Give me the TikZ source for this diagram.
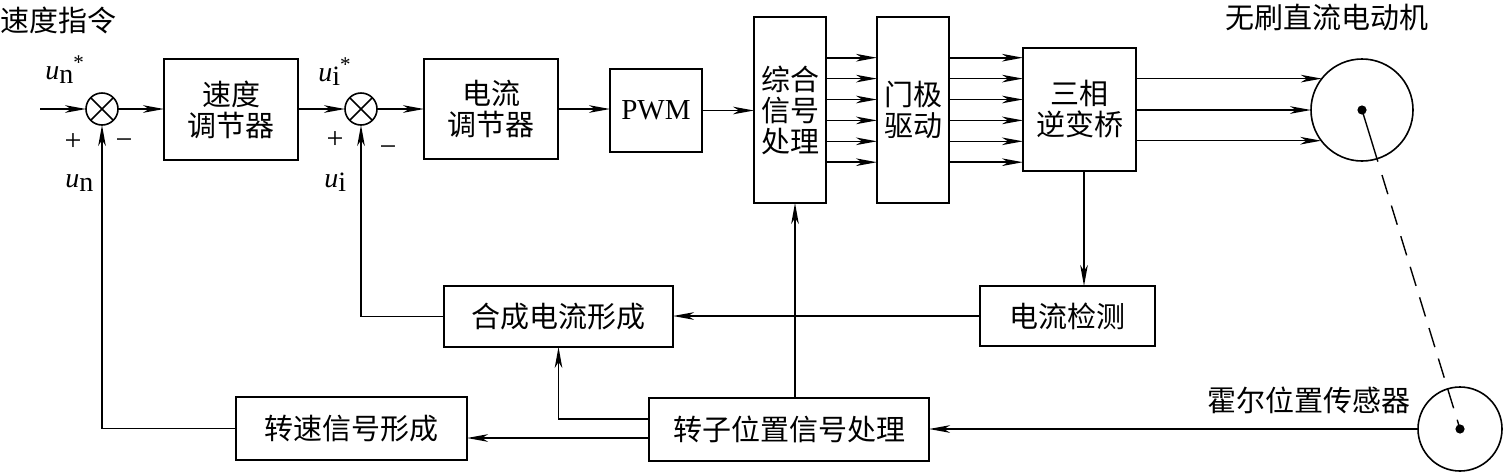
\documentclass[tikz,border=0pt]{standalone}
\usepackage{fontspec}
\setmainfont{Liberation Serif}
\newfontfamily\cjk{Noto Sans CJK SC}
\usetikzlibrary{arrows.meta}
\newcommand{\uvar}[2]{\textit{u}\raisebox{-2pt}{#1}\raisebox{4.6pt}{\fontsize{10.5}{10.5}\selectfont #2}}
\newcommand{\usub}[1]{\textit{u}\raisebox{-2pt}{#1}}
\begin{document}
\begin{tikzpicture}[x=0.5pt,y=-0.5pt,
  blk/.style={draw, line width=0.9pt, inner sep=0pt, outer sep=0pt, align=center,
    font=\cjk\fontsize{14.5}{15.5}\selectfont},
  ttl/.style={inner sep=0pt, font=\cjk\fontsize{14.5}{17}\selectfont},
  lbl/.style={inner sep=0pt, font=\fontsize{14}{16}\selectfont},
  sgn/.style={inner sep=0pt, font=\fontsize{15}{17}\selectfont},
  sumc/.style={draw, circle, line width=0.8pt, minimum size=16pt, inner sep=0pt, outer sep=0pt},
  motc/.style={draw, circle, line width=0.8pt, inner sep=0pt, outer sep=0pt},
  arr/.style={-{Stealth[length=10.5pt,width=3.8pt,inset=3pt]}, line width=0.8pt},
  ln/.style={line width=0.8pt}]
\useasboundingbox (0,0) rectangle (1504,472);

% blocks
\node[blk, minimum width=67pt, minimum height=50.5pt] (spd) at (231,109.5) {速度\\调节器};
\node[blk, minimum width=67pt, minimum height=50pt] (cur) at (491,109) {电流\\调节器};
\node[blk, font=\fontsize{14.5}{17}\selectfont, minimum width=46pt, minimum height=41.5pt] (pwm) at (656,110.5) {PWM};
\node[blk, minimum width=36pt, minimum height=93pt] (zh) at (790,110) {综合\\信号\\处理};
\node[blk, minimum width=36pt, minimum height=93pt] (gate) at (913,110) {门极\\驱动};
\node[blk, minimum width=56.5pt, minimum height=61.5pt] (inv) at (1079.5,109.5) {三相\\逆变桥};
\node[blk, minimum width=114.5pt, minimum height=30.5pt] (hc) at (558.5,316.5) {合成电流形成};
\node[blk, minimum width=87.5pt, minimum height=30pt] (det) at (1067.5,316) {电流检测};
\node[blk, minimum width=115.5pt, minimum height=31.5pt] (spdf) at (351.5,428.5) {转速信号形成};
\node[blk, minimum width=140pt, minimum height=31.5pt] (rot) at (789,429.5) {转子位置信号处理};

% summing junctions
\node[sumc] (s1) at (102,109) {};
\node[sumc] (s2) at (361,109) {};
\draw[ln] (s1.45) -- (s1.225) (s1.135) -- (s1.315);
\draw[ln] (s2.45) -- (s2.225) (s2.135) -- (s2.315);

% motor and hall sensor
\node[motc, minimum size=51pt] (mot) at (1362,110) {};
\node[motc, minimum size=42pt] (hall) at (1460,429) {};
\fill (mot.center) circle (2.3pt);
\fill (hall.center) circle (2.3pt);
\draw[line width=0.7pt, dash pattern=on 27pt off 7pt on 10pt off 6pt on 10pt off 6pt on 10pt off 6pt on 10pt off 6pt on 10pt off 6pt on 10pt off 6pt on 10pt off 6pt on 10pt off 6pt on 30pt off 0pt] (mot.center) -- (hall.center);

% titles
\node[ttl, anchor=west] (t1) at (0,20) {速度指令};
\node[ttl] (t2) at (1327,17) {无刷直流电动机};
\node[ttl] (t3) at (1309,400) {霍尔位置传感器};

% labels
\node[lbl, anchor=base west] (l1) at (45,79) {\uvar{n}{*}};
\node[sgn] (l2) at (73,142) {+};
\node[sgn] (l3) at (124,144) {−};
\node[lbl, anchor=base west] (l4) at (65,187) {\usub{n}};
\node[lbl, anchor=base west] (l5) at (318,81) {\uvar{i}{*}};
\node[sgn] (l6) at (335,140) {+};
\node[sgn] (l7) at (388,151) {−};
\node[lbl, anchor=base west] (l8) at (324,187) {\usub{i}};

% forward path
\coordinate (in) at (40,109);
\draw[arr] (in) -- (s1.west);
\draw[arr] (s1.east) -- (spd.west |- s1.east);
\draw[arr] (spd.east |- s2.west) -- (s2.west);
\draw[arr] (s2.east) -- (cur.west |- s2.east);
\draw[arr] (cur.east) -- (cur.east -| pwm.west);
\draw[arr] (pwm.east) -- (pwm.east -| zh.west);
\foreach \k in {0,...,5}{
  \draw[arr] (zh.east |- 0,{57.7+20.9*\k}) -- (gate.west |- 0,{57.7+20.9*\k});
  \draw[arr] (gate.east |- 0,{57.7+20.9*\k}) -- (inv.west |- 0,{57.7+20.9*\k});
}
\draw[arr] (inv.east |- mot.142.6) -- (mot.142.6);
\draw[arr] (inv.east |- mot.180) -- (mot.180);
\draw[arr] (inv.east |- mot.217.4) -- (mot.217.4);

% feedback paths
\draw[arr] (inv.south -| 1084,0) -- (det.north -| 1084,0);
\draw[arr] (det.west) -- (det.west -| hc.east);
\draw[arr] (hc.west) -| (s2.south);
\draw[arr] (hall.west) -- (hall.west -| rot.east);
\draw[arr] (rot.north -| 795,0) -- (zh.south -| 795,0);
\draw[arr] (rot.west |- 0,419) -| (hc.south);
\draw[arr] (rot.west |- 0,438) -- (spdf.east |- 0,438);
\draw[arr] (spdf.west) -| (s1.south);
\end{tikzpicture}
\end{document}
